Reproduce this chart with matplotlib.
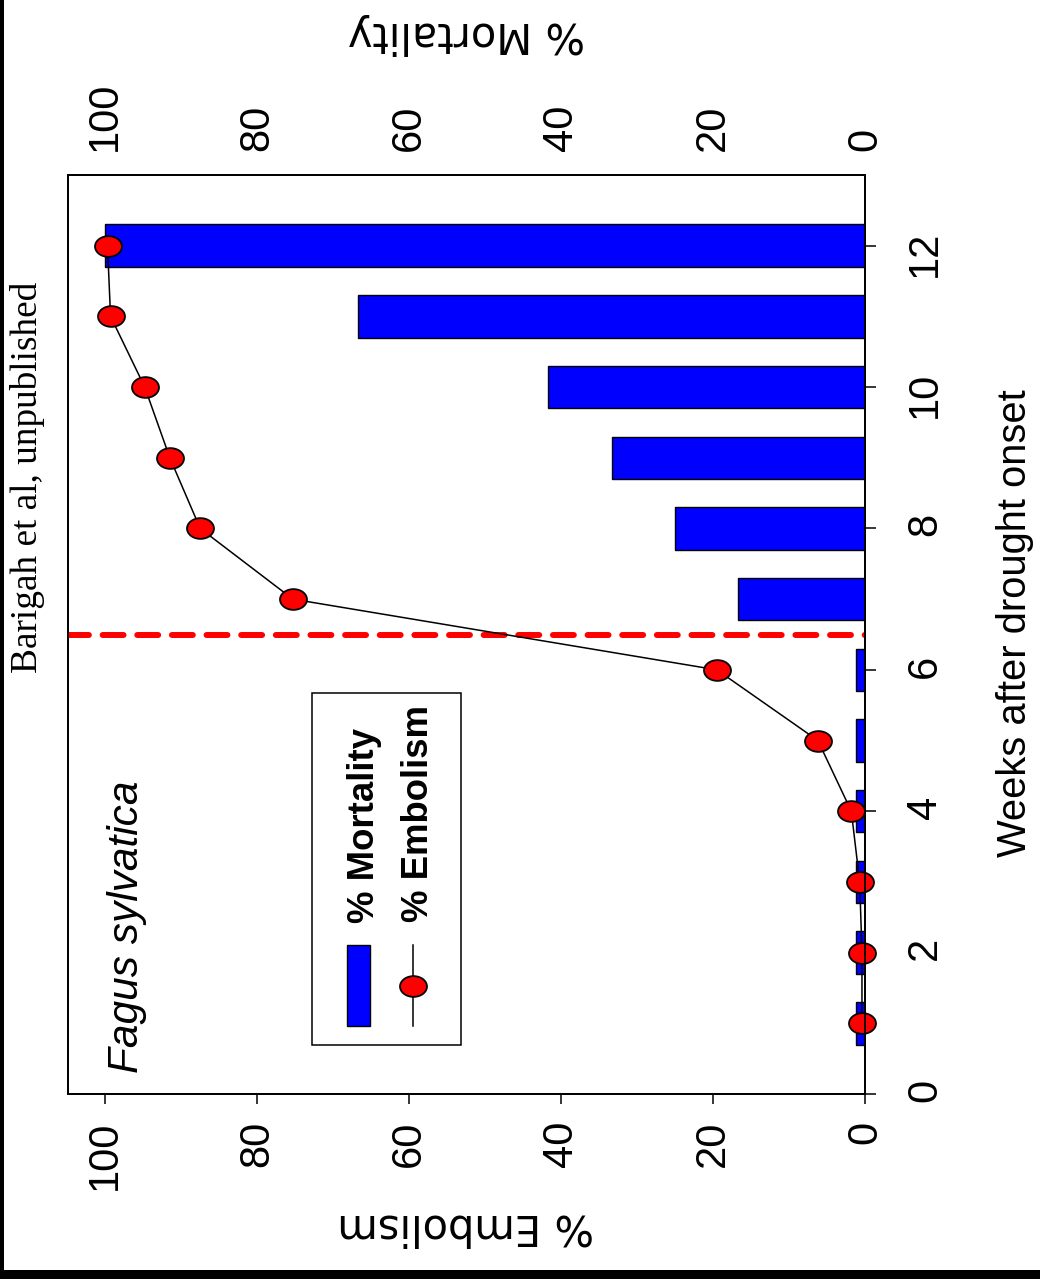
import matplotlib
matplotlib.use("Agg")
import matplotlib.pyplot as plt
from matplotlib import font_manager
from matplotlib.path import Path
from matplotlib.transforms import Affine2D
from matplotlib.patches import Rectangle
from matplotlib.lines import Line2D

# ---------------- data ----------------
weeks = [1, 2, 3, 4, 5, 6, 7, 8, 9, 10, 11, 12]
mortality = [1.2, 1.2, 1.2, 1.2, 1.2, 1.2, 16.7, 25.0, 33.3, 41.7, 66.7, 100.0]
embolism = [0.4, 0.4, 0.7, 1.8, 6.2, 19.5, 75.3, 87.5, 91.5, 94.8, 99.3, 99.7]
threshold_week = 6.5
pct_ticks = [0, 20, 40, 60, 80, 100]
week_ticks = [0, 2, 4, 6, 8, 10, 12]

# ---------------- fonts ----------------
names = {f.name for f in font_manager.fontManager.ttflist}
HAVE_NARROW = 'Liberation Sans Narrow' in names
NARROW = 'Liberation Sans Narrow' if HAVE_NARROW else 'Liberation Sans'
tick_fs = 34 if HAVE_NARROW else 30
leg_fs = 31.5 if HAVE_NARROW else 26.3

W, H = 1040, 1279
fig = plt.figure(figsize=(W / 100, H / 100), dpi=100, facecolor='white')
pix = Affine2D().scale(1 / W, -1 / H).translate(0, 1) + fig.transFigure

# axes box: x 68..865, y 175..1094 (pixels)
ax = fig.add_axes([68 / W, 1 - 1094 / H, (865 - 68) / W, (1094 - 175) / H])
ax.set_xlim(104.9, 0)
ax.set_ylim(0, 13)

ax.barh(weeks, mortality, height=0.6, color='#0000ff', edgecolor='black',
        linewidth=1.0, zorder=2)

ax.axhline(threshold_week, color='#ff0000', linewidth=4.3,
           dashes=(3.5, 2.3), dash_capstyle='round', zorder=3)

ellipse = Path(Affine2D().scale(1.3, 1.0).transform(Path.unit_circle().vertices),
               Path.unit_circle().codes)
ax.plot(embolism, weeks, color='black', linewidth=1.1, marker=ellipse,
        markersize=19.4, markerfacecolor='#ff0000', markeredgecolor='black',
        markeredgewidth=1.3, zorder=4, clip_on=False)

for s in ax.spines.values():
    s.set_linewidth(1.3)

ax.set_xticks(pct_ticks)
ax.set_xticklabels([str(t) for t in pct_ticks], fontfamily=NARROW)
ax.tick_params(axis='x', direction='out', length=7.5, width=1.1, pad=12,
               labelsize=tick_fs, labelrotation=90)
ax.yaxis.tick_right()
ax.set_yticks(week_ticks)
ax.set_yticklabels([str(t) for t in week_ticks], fontfamily=NARROW)
ax.tick_params(axis='y', direction='out', length=8, width=1.1, pad=21,
               labelsize=tick_fs, labelrotation=90)

ax2 = ax.twiny()
ax2.set_xlim(ax.get_xlim())
ax2.set_xticks(pct_ticks)
ax2.set_xticklabels([str(t) for t in pct_ticks], fontfamily=NARROW)
ax2.tick_params(axis='x', length=0, pad=17, labelsize=tick_fs, labelrotation=90)
for s in ax2.spines.values():
    s.set_linewidth(1.3)

# axis titles
fig.text(466, 22, '% Mortality', transform=pix, rotation=180,
         rotation_mode='anchor', ha='center', va='baseline',
         fontfamily='DejaVu Sans', fontsize=30)
fig.text(466, 1214, '% Embolism', transform=pix, rotation=180,
         rotation_mode='anchor', ha='center', va='baseline',
         fontfamily='DejaVu Sans', fontsize=30)
fig.text(1026, 623, 'Weeks after drought onset', transform=pix, rotation=90,
         rotation_mode='anchor', ha='center', va='baseline',
         fontfamily='Liberation Sans', fontsize=28.7)
fig.text(37, 673, 'Barigah et al, unpublished', transform=pix, rotation=90,
         rotation_mode='anchor', ha='left', va='baseline',
         fontfamily='Liberation Serif', fontsize=26.8)
fig.text(138, 1073, 'Fagus sylvatica', transform=pix, rotation=90,
         rotation_mode='anchor', ha='left', va='baseline',
         fontfamily='Liberation Sans', fontstyle='italic', fontsize=30.5)

# rotated legend
fig.patches.append(Rectangle((312, 693), 149, 352, transform=pix, fill=False,
                             edgecolor='black', linewidth=1.1))
fig.patches.append(Rectangle((347, 945), 23, 81, transform=pix,
                             facecolor='#0000ff', edgecolor='black', linewidth=1.0))
fig.lines.append(Line2D([413, 413], [945, 1026], transform=pix, color='black',
                        linewidth=1.1))
fig.lines.append(Line2D([413], [985.5], transform=pix, linestyle='none',
                        marker=ellipse, markersize=19.4, markerfacecolor='#ff0000',
                        markeredgecolor='black', markeredgewidth=1.3))
fig.text(374, 923, '% Mortality', transform=pix, rotation=90,
         rotation_mode='anchor', ha='left', va='baseline',
         fontfamily=NARROW, fontweight='bold', fontsize=leg_fs)
fig.text(428, 922, '% Embolism', transform=pix, rotation=90,
         rotation_mode='anchor', ha='left', va='baseline',
         fontfamily=NARROW, fontweight='bold', fontsize=leg_fs)

# black frame remnants at left and bottom edges
fig.patches.append(Rectangle((0, 0), 4, H, transform=pix, facecolor='black',
                             edgecolor='none'))
fig.patches.append(Rectangle((0, 1270), W, 9, transform=pix, facecolor='black',
                             edgecolor='none'))

fig.savefig('out.png', dpi=100, facecolor='white')
